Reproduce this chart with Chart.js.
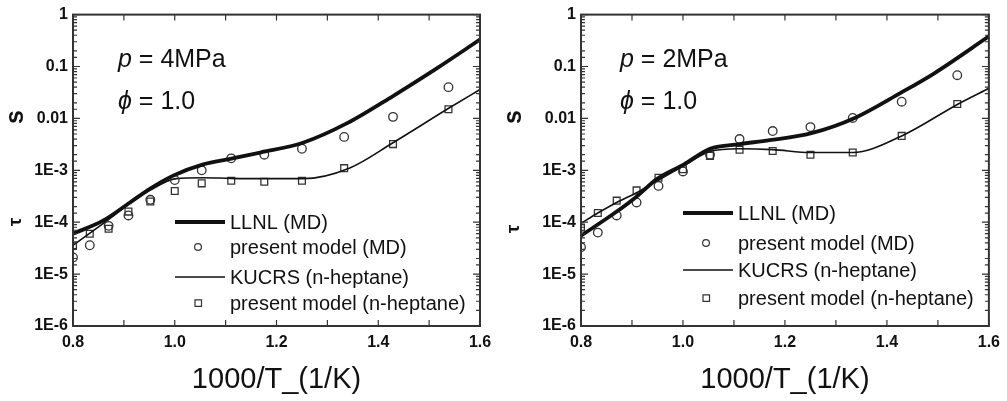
<!DOCTYPE html>
<html>
<head>
<meta charset="utf-8">
<script src="https://cdn.jsdelivr.net/npm/chart.js@4.4.0/dist/chart.umd.min.js"></script>
<style>
  html, body { margin: 0; padding: 0; background: #fff; }
  #wrap { position: relative; width: 1007px; height: 401px; overflow: hidden; }
  canvas { position: absolute; top: 0; }
  #chartLeft { left: 0; }
  #chartRight { left: 503px; }
</style>
</head>
<body>
<div id="wrap">
  <canvas id="chartLeft" width="503" height="401"></canvas>
  <canvas id="chartRight" width="504" height="401"></canvas>
</div>
<script>
// marker positions, 1000/T for T = 1250 ... 650 K
const modelX = [0.8, 0.833, 0.870, 0.909, 0.952, 1.0, 1.053, 1.111, 1.176, 1.25, 1.333, 1.429, 1.538];

// p = 4 MPa
const p4ModelMD   = [2.1e-5, 3.6e-5, 8.5e-5, 1.35e-4, 2.7e-4, 6.5e-4, 1.0e-3, 1.7e-3, 2.0e-3, 2.6e-3, 4.4e-3, 0.0107, 0.040];
const p4ModelHept = [3.6e-5, 6.0e-5, 7.5e-5, 1.6e-4, 2.5e-4, 4.0e-4, 5.6e-4, 6.3e-4, 6.0e-4, 6.3e-4, 1.1e-3, 3.2e-3, 0.015];
const p4LlnlX  = [0.8, 0.859, 0.912, 0.951, 0.997, 1.056, 1.109, 1.168, 1.252, 1.339, 1.429, 1.515, 1.6];
const p4LlnlY  = [6.0e-5, 1.07e-4, 2.4e-4, 4.4e-4, 7.9e-4, 1.3e-3, 1.66e-3, 2.2e-3, 3.4e-3, 8.1e-3, 0.027, 0.092, 0.33];
const p4KucrsX = [0.8, 0.859, 0.912, 0.951, 1.003, 1.056, 1.11, 1.168, 1.252, 1.343, 1.429, 1.54, 1.6];
const p4KucrsY = [3.6e-5, 9.4e-5, 2.3e-4, 4.1e-4, 6.9e-4, 7.2e-4, 7.0e-4, 6.9e-4, 6.9e-4, 1.1e-3, 3.4e-3, 0.016, 0.036];

// p = 2 MPa
const p2ModelMD   = [3.3e-5, 6.3e-5, 1.35e-4, 2.4e-4, 5.0e-4, 9.5e-4, 2.0e-3, 4.0e-3, 5.7e-3, 6.8e-3, 0.0102, 0.021, 0.068];
const p2ModelHept = [7.9e-5, 1.5e-4, 2.6e-4, 4.1e-4, 7.2e-4, 1.05e-3, 1.9e-3, 2.5e-3, 2.35e-3, 2.0e-3, 2.2e-3, 4.6e-3, 0.019];
const p2LlnlX  = [0.8, 0.866, 0.907, 0.95, 1.002, 1.053, 1.111, 1.17, 1.252, 1.337, 1.427, 1.493, 1.6];
const p2LlnlY  = [5.5e-5, 1.5e-4, 3.0e-4, 6.9e-4, 1.3e-3, 2.6e-3, 3.2e-3, 3.8e-3, 5.2e-3, 0.0102, 0.031, 0.074, 0.38];
const p2KucrsX = [0.8, 0.833, 0.87, 0.909, 0.952, 1.0, 1.053, 1.111, 1.176, 1.25, 1.333, 1.429, 1.54, 1.6];
const p2KucrsY = [9.5e-5, 1.5e-4, 2.4e-4, 3.7e-4, 6.5e-4, 1.2e-3, 2.3e-3, 2.6e-3, 2.5e-3, 2.2e-3, 2.2e-3, 4.6e-3, 0.019, 0.038];

const seriesLabels = ['LLNL (MD)', 'present model (MD)', 'KUCRS (n-heptane)', 'present model (n-heptane)'];
const yTickLabels = { '0': '1', '-1': '0.1', '-2': '0.01', '-3': '1E-3', '-4': '1E-4', '-5': '1E-5', '-6': '1E-6' };
const xTickLabels = ['0.8', '1.0', '1.2', '1.4', '1.6'];
const xTitle = '1000/T_(1/K)';

const INK = '#111';
const FONT = 'Arial, "Liberation Sans", "DejaVu Sans", sans-serif';

function pts(xs, ys) {
  return xs.map((x, i) => ({ x: x, y: ys[i] }));
}

function makeDatasets(llnlX, llnlY, md, kucrsX, kucrsY, hept) {
  return [
    { label: seriesLabels[0], data: pts(llnlX, llnlY), showLine: true, borderColor: INK, borderWidth: 3.8,
      pointRadius: 0, cubicInterpolationMode: 'monotone' },
    { label: seriesLabels[1], data: pts(modelX, md), showLine: false, pointStyle: 'circle', pointRadius: 4.3,
      borderColor: '#333', borderWidth: 1.3, backgroundColor: 'rgba(255,255,255,0)' },
    { label: seriesLabels[2], data: pts(kucrsX, kucrsY), showLine: true, borderColor: INK, borderWidth: 1.6,
      pointRadius: 0, cubicInterpolationMode: 'monotone' },
    { label: seriesLabels[3], data: pts(modelX, hept), showLine: false, pointStyle: 'rect', pointRadius: 4.8,
      borderColor: '#333', borderWidth: 1.3, backgroundColor: 'rgba(255,255,255,0)' }
  ];
}

// frame, inward ticks, titles, annotation text and legend
const decorPlugin = {
  id: 'decor',
  afterDraw(chart) {
    const o = chart.options.plugins.decor;
    const ctx = chart.ctx;
    const a = chart.chartArea;
    const xs = chart.scales.x, ys = chart.scales.y;
    ctx.save();
    ctx.strokeStyle = '#333';
    ctx.lineWidth = 1.2;
    ys.ticks.forEach(t => {
      const y = ys.getPixelForValue(t.value);
      const dec = Math.abs(Math.log10(t.value) - Math.round(Math.log10(t.value))) < 1e-6;
      const len = dec ? 7 : 4;
      ctx.beginPath();
      ctx.moveTo(a.left, y); ctx.lineTo(a.left + len, y);
      ctx.moveTo(a.right, y); ctx.lineTo(a.right - len, y);
      ctx.stroke();
    });
    xs.ticks.forEach(t => {
      const x = xs.getPixelForValue(t.value);
      const len = 6;
      ctx.beginPath();
      ctx.moveTo(x, a.bottom); ctx.lineTo(x, a.bottom - len);
      ctx.moveTo(x, a.top); ctx.lineTo(x, a.top + len);
      ctx.stroke();
    });
    ctx.lineWidth = 2;
    ctx.strokeRect(a.left, a.top, a.right - a.left, a.bottom - a.top);

    // x title
    ctx.fillStyle = INK;
    ctx.font = '29px ' + FONT;
    ctx.textAlign = 'center';
    ctx.textBaseline = 'middle';
    ctx.fillText(xTitle, (a.left + a.right) / 2, 380);

    // y title (rotated)
    ctx.save();
    ctx.translate(o.yTitleX, 0);
    ctx.rotate(-Math.PI / 2);
    ctx.font = 'bold 25px ' + FONT;
    ctx.fillText('s', -117, 0);
    ctx.font = 'bold 19px ' + FONT;
    ctx.fillText('τ', -o.tauY, 0);
    ctx.restore();

    // p and phi
    ctx.textAlign = 'left';
    ctx.textBaseline = 'alphabetic';
    let x0 = a.left + o.noteDx;
    ctx.font = 'italic 25px ' + FONT;
    ctx.fillText('p', x0, 67);
    let w = ctx.measureText('p').width;
    ctx.font = '25px ' + FONT;
    ctx.fillText(' = ' + o.pressure, x0 + w, 67);
    ctx.font = 'italic 25px ' + FONT;
    ctx.fillText('ϕ', x0, 109);
    w = ctx.measureText('ϕ').width;
    ctx.font = '25px ' + FONT;
    ctx.fillText(' = 1.0', x0 + w, 109);

    // legend
    const lx = a.left + 102;
    ctx.font = '20px ' + FONT;
    ctx.textBaseline = 'middle';
    chart.data.datasets.forEach((ds, i) => {
      const y = o.legendY[i];
      ctx.strokeStyle = ds.borderColor;
      if (ds.showLine) {
        ctx.lineWidth = ds.borderWidth;
        ctx.beginPath();
        ctx.moveTo(lx, y); ctx.lineTo(lx + 50, y);
        ctx.stroke();
      } else {
        ctx.lineWidth = 1.2;
        ctx.beginPath();
        if (ds.pointStyle === 'circle') ctx.arc(lx + 23, y, 3.4, 0, Math.PI * 2);
        else ctx.rect(lx + 20, y - 3.2, 6.5, 6.5);
        ctx.stroke();
      }
      ctx.fillStyle = INK;
      ctx.fillText(ds.label, lx + 55, y + 1);
    });
    ctx.restore();
  }
};

function makeChart(id, datasets, cfg) {
  return new Chart(document.getElementById(id), {
    type: 'scatter',
    data: { datasets: datasets },
    plugins: [decorPlugin],
    options: {
      responsive: false,
      animation: false,
      layout: { padding: { top: 13, right: cfg.padRight, left: 0, bottom: 0 } },
      plugins: {
        legend: { display: false },
        tooltip: { enabled: false },
        decor: cfg
      },
      scales: {
        x: {
          type: 'linear', min: 0.8, max: 1.6,
          grid: { display: false, drawTicks: false },
          border: { display: false },
          ticks: {
            stepSize: 0.1, autoSkip: false, maxRotation: 0, padding: 7, color: INK,
            font: { family: FONT, size: 16, weight: 'bold' },
            callback: v => {
              const k = Math.round(v * 10);
              return k % 2 === 0 ? xTickLabels[(k - 8) / 2] : '';
            }
          },
          afterFit: s => { s.height = 75; }
        },
        y: {
          type: 'logarithmic', min: 1e-6, max: 1,
          grid: { display: false, drawTicks: false },
          border: { display: false },
          ticks: {
            autoSkip: false, padding: 5, color: INK,
            font: { family: FONT, size: 16, weight: 'bold' },
            callback: v => {
              const e = Math.log10(v);
              if (Math.abs(e - Math.round(e)) > 1e-6) return '';
              return yTickLabels[String(Math.round(e))] || '';
            }
          },
          afterFit: s => { s.width = cfg.axisLeft; }
        }
      }
    }
  });
}

makeChart('chartLeft', makeDatasets(p4LlnlX, p4LlnlY, p4ModelMD, p4KucrsX, p4KucrsY, p4ModelHept), {
  padRight: 23, axisLeft: 73, pressure: '4MPa', noteDx: 45, yTitleX: 16, tauY: 222,
  legendY: [222, 247, 277, 303]
});
makeChart('chartRight', makeDatasets(p2LlnlX, p2LlnlY, p2ModelMD, p2KucrsX, p2KucrsY, p2ModelHept), {
  padRight: 15, axisLeft: 78, pressure: '2MPa', noteDx: 39, yTitleX: 11, tauY: 229,
  legendY: [213, 243, 270, 298]
});
</script>
</body>
</html>
